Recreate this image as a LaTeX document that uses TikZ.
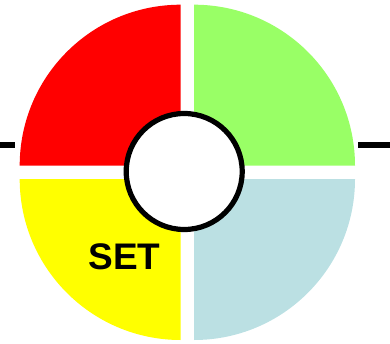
\documentclass[tikz,border=0pt]{standalone}
\usepackage{fontspec}
\setsansfont{Liberation Sans}
\usepackage{tikz}
\usetikzlibrary{positioning}

\definecolor{qred}{RGB}{255,0,0}
\definecolor{qgreen}{RGB}{153,255,102}
\definecolor{qyellow}{RGB}{255,255,0}
\definecolor{qblue}{RGB}{187,224,227}

\begin{document}
\begin{tikzpicture}[x=1pt, y=1pt,
      hub/.style={circle, draw=black, line width=5.2pt, fill=white,
                  minimum size=116pt, inner sep=0pt},
      stub/.style={draw=black, line width=6pt},
      lbl/.style={font=\sffamily\bfseries\fontsize{37}{42}\selectfont, text=black}]

    \def\rq{161}   % quadrant radius
    \def\ym{198.3} % height of the side stubs

    \useasboundingbox (0,0) rectangle (390,343);

    % === quadrants ===
    \fill[qred]    (180.7,177.3) -- ++(-\rq,0) arc[start angle=180, end angle=90,  radius=\rq] -- cycle;
    \fill[qgreen]  (194,177.3)   -- ++(0,\rq)  arc[start angle=90,  end angle=0,   radius=\rq] -- cycle;
    \fill[qyellow] (180.7,164)   -- ++(0,-\rq) arc[start angle=270, end angle=180, radius=\rq] -- cycle;
    \fill[qblue]   (194,164)     -- ++(\rq,0)  arc[start angle=0,   end angle=-90, radius=\rq] -- cycle;

    % === hub and label ===
    \node[hub] (hub) at (184.2,171.5) {};
    \node[lbl] (set) at (124.5,86.5) {SET};

    % === side stubs ===
    \coordinate (lout) at (0,\ym);
    \coordinate (lin)  at (15.3,\ym);
    \coordinate (rin)  at (358.3,\ym);
    \coordinate (rout) at (390,\ym);
    \draw[stub] (lout) -- (lin);
    \draw[stub] (rin) -- (rout);

\end{tikzpicture}
\end{document}
